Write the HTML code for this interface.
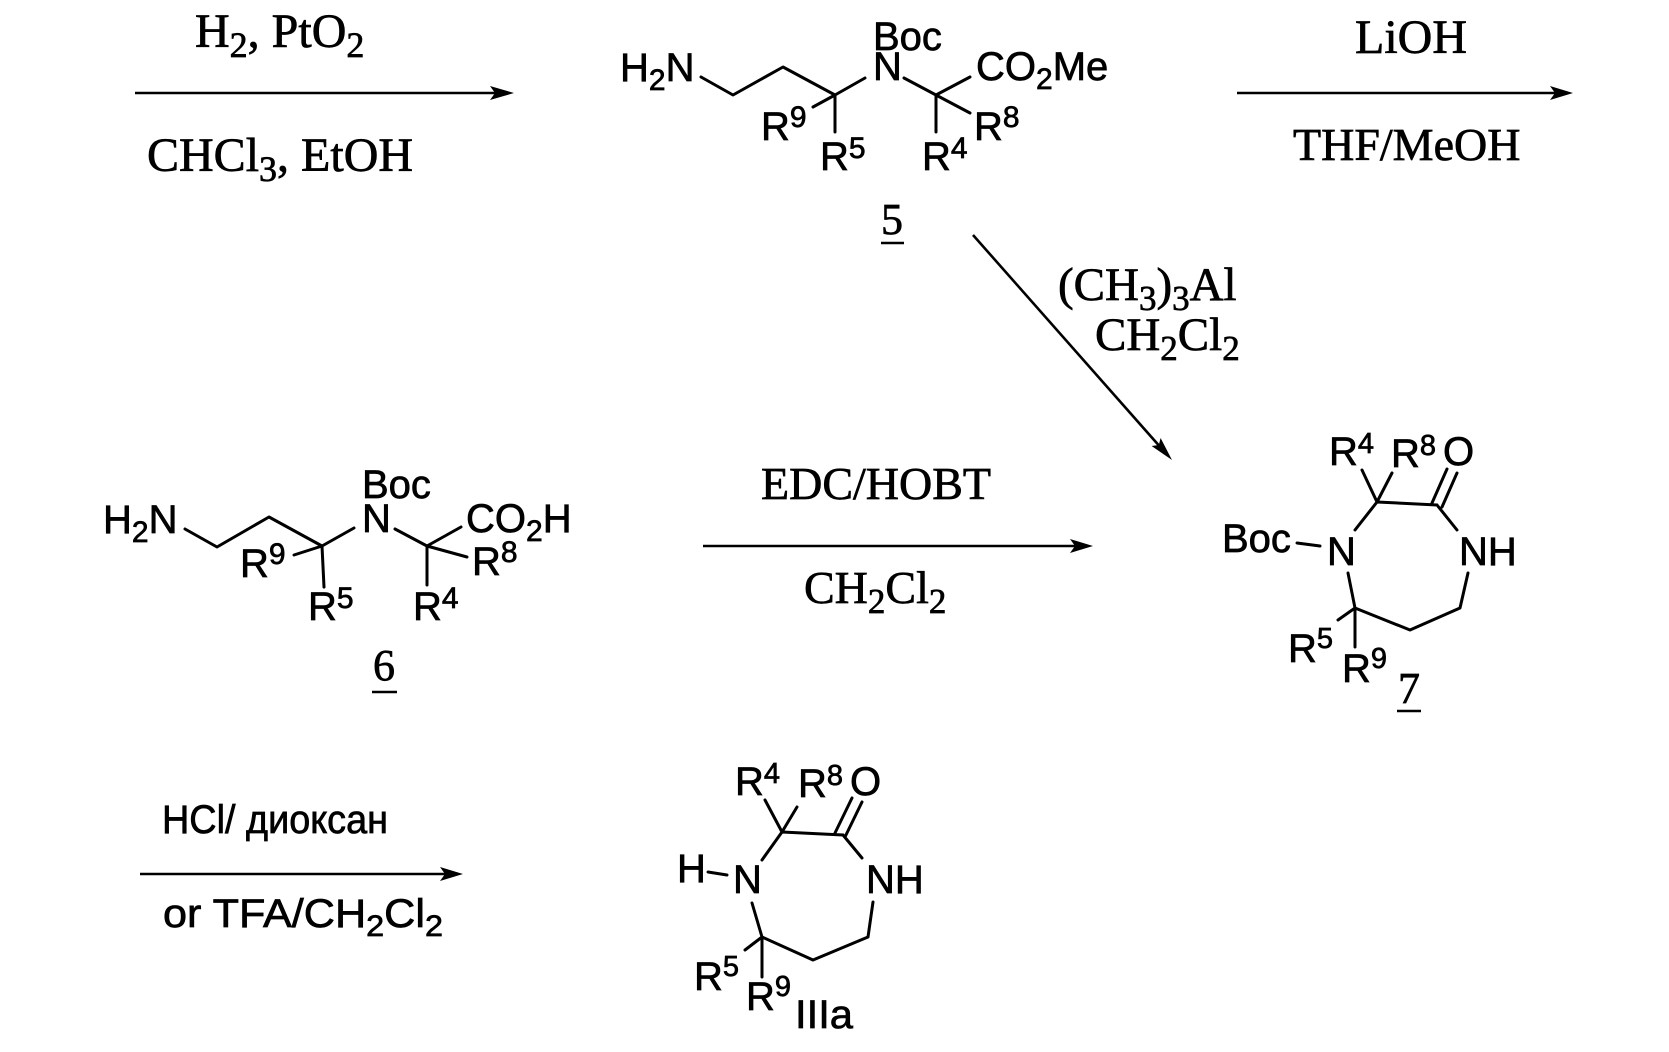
<!DOCTYPE html>
<html>
<head>
<meta charset="utf-8">
<style>
  html, body { margin:0; padding:0; background:#fff; }
  body { width:1669px; height:1052px; overflow:hidden; }
  svg { display:block; }
  .s { font-family:"Liberation Sans", Arial, sans-serif; font-size:40px; fill:#000; stroke:#000; stroke-width:0.7; }
  .t { font-family:"Liberation Serif", "Times New Roman", serif; fill:#000; stroke:#000; stroke-width:0.7; }
  .b { stroke:#000; stroke-width:3; fill:none; stroke-linecap:round; stroke-linejoin:round; }
  .a { stroke:#000; stroke-width:2.6; fill:none; }
</style>
</head>
<body>
<svg width="1669" height="1052" viewBox="0 0 1669 1052" xmlns="http://www.w3.org/2000/svg">

  <!-- ===== Top-left arrow ===== -->
  <text class="t" font-size="48" x="195" y="47">H<tspan font-size="36" dy="10">2</tspan><tspan dy="-10">, PtO</tspan><tspan font-size="36" dy="10">2</tspan></text>
  <line class="a" x1="135" y1="93" x2="500" y2="93"/>
  <polygon points="514,93 490,86 495,93 490,100" fill="#000"/>
  <text class="t" font-size="48" x="147" y="171">CHCl<tspan font-size="36" dy="10">3</tspan><tspan dy="-10">, EtOH</tspan></text>

  <!-- ===== Compound 5 ===== -->
  <text class="s" x="620" y="81">H<tspan font-size="30" dy="9">2</tspan><tspan dy="-9">N</tspan></text>
  <text class="s" x="873" y="50" font-size="41">Boc</text>
  <text class="s" x="873" y="80" font-size="41">N</text>
  <text class="s" x="976" y="80" font-size="41">CO<tspan font-size="30" dy="9">2</tspan><tspan dy="-9">Me</tspan></text>
  <text class="s" x="761" y="140" font-size="41">R<tspan font-size="30" dy="-13">9</tspan></text>
  <text class="s" x="820" y="170" font-size="41">R<tspan font-size="30" dy="-12">5</tspan></text>
  <text class="s" x="922" y="170" font-size="41">R<tspan font-size="30" dy="-12">4</tspan></text>
  <text class="s" x="974" y="140" font-size="41">R<tspan font-size="30" dy="-13">8</tspan></text>
  <path class="b" d="M701,77 L733,95 L783,67 L835,95 L865,78 M835,95 L813,107 M835,95 L835,132 M904,78 L936,95 L970,77 M936,95 L970,113 M936,95 L936,132"/>
  <text class="t" font-size="44" x="881" y="234">5</text>
  <line x1="881" y1="243" x2="904" y2="243" stroke="#000" stroke-width="2.6"/>

  <!-- ===== LiOH arrow ===== -->
  <text class="t" font-size="48" x="1355" y="53">LiOH</text>
  <line class="a" x1="1237" y1="93" x2="1558" y2="93"/>
  <polygon points="1573,93 1550,86 1555,93 1550,100" fill="#000"/>
  <text class="t" font-size="46" x="1293" y="160">THF/MeOH</text>

  <!-- ===== Diagonal arrow ===== -->
  <line class="a" x1="973" y1="235" x2="1162" y2="449"/>
  <polygon points="1172,460 1151.6,446 1158.8,445 1160.6,438" fill="#000"/>
  <text class="t" font-size="47" x="1058" y="300">(CH<tspan font-size="35" dy="10">3</tspan><tspan dy="-10">)</tspan><tspan font-size="35" dy="10">3</tspan><tspan dy="-10">Al</tspan></text>
  <text class="t" font-size="47" x="1095" y="350">CH<tspan font-size="35" dy="10">2</tspan><tspan dy="-10">Cl</tspan><tspan font-size="35" dy="10">2</tspan></text>

  <!-- ===== Compound 6 ===== -->
  <text class="s" x="103" y="533" font-size="41">H<tspan font-size="30" dy="9">2</tspan><tspan dy="-9">N</tspan></text>
  <text class="s" x="362" y="498" font-size="41">Boc</text>
  <text class="s" x="362" y="532" font-size="41">N</text>
  <text class="s" x="466" y="532" font-size="41">CO<tspan font-size="30" dy="9">2</tspan><tspan dy="-9">H</tspan></text>
  <text class="s" x="240" y="577" font-size="41">R<tspan font-size="30" dy="-13">9</tspan></text>
  <text class="s" x="308" y="620" font-size="41">R<tspan font-size="30" dy="-12">5</tspan></text>
  <text class="s" x="413" y="620" font-size="41">R<tspan font-size="30" dy="-12">4</tspan></text>
  <text class="s" x="472" y="575" font-size="41">R<tspan font-size="30" dy="-13">8</tspan></text>
  <path class="b" d="M185,529 L217,547 L269,517 L322,546 L354,528 M322,546 L294,555 M322,546 L324,587 M395,529 L427,546 L461,527 M427,546 L467,557 M427,546 L427,585"/>
  <text class="t" font-size="44" x="373" y="680">6</text>
  <line x1="372" y1="692" x2="397" y2="692" stroke="#000" stroke-width="2.6"/>

  <!-- ===== EDC arrow ===== -->
  <text class="t" font-size="46" x="761" y="499">EDC/HOBT</text>
  <line class="a" x1="703" y1="546" x2="1078" y2="546"/>
  <polygon points="1093,546 1070,539 1075,546 1070,553" fill="#000"/>
  <text class="t" font-size="46" x="804" y="603">CH<tspan font-size="35" dy="10">2</tspan><tspan dy="-10">Cl</tspan><tspan font-size="35" dy="10">2</tspan></text>

  <!-- ===== Compound 7 ===== -->
  <text class="s" x="1329" y="465">R<tspan font-size="29" dy="-12">4</tspan></text>
  <text class="s" x="1391" y="467">R<tspan font-size="29" dy="-12">8</tspan></text>
  <text class="s" x="1443" y="465" font-size="41">O</text>
  <text class="s" x="1222" y="552" font-size="41">Boc</text>
  <text class="s" x="1327" y="565" font-size="41">N</text>
  <text class="s" x="1459" y="565" font-size="41">NH</text>
  <text class="s" x="1288" y="662">R<tspan font-size="29" dy="-14">5</tspan></text>
  <text class="s" x="1342" y="682">R<tspan font-size="29" dy="-14">9</tspan></text>
  <path class="b" d="M1297,543 L1320,546 M1362,470 L1377,502 L1392,473 M1377,502 L1355,530 M1377,502 L1437,505 M1432,503 L1447,469 M1442,507 L1457,473 M1437,505 L1457,530 M1468,573 L1460,608 L1410,630 L1355,608 L1348,573 M1355,608 L1338,620 M1355,608 L1355,647"/>
  <text class="t" font-size="44" x="1398" y="703">7</text>
  <line x1="1397" y1="711" x2="1421" y2="711" stroke="#000" stroke-width="2.6"/>

  <!-- ===== Bottom arrow ===== -->
  <text class="s" font-size="37" x="162" y="833" textLength="226" lengthAdjust="spacingAndGlyphs">HCl/ диоксан</text>
  <line class="a" x1="140" y1="874" x2="448" y2="874"/>
  <polygon points="463,874 440,867 445,874 440,881" fill="#000"/>
  <text class="s" font-size="40" x="163" y="927" textLength="280" lengthAdjust="spacingAndGlyphs">or TFA/CH<tspan font-size="30" dy="9">2</tspan><tspan dy="-9">Cl</tspan><tspan font-size="30" dy="9">2</tspan></text>

  <!-- ===== Compound IIIa ===== -->
  <text class="s" x="735" y="795">R<tspan font-size="29" dy="-12">4</tspan></text>
  <text class="s" x="798" y="797">R<tspan font-size="29" dy="-12">8</tspan></text>
  <text class="s" x="850" y="795" font-size="41">O</text>
  <text class="s" x="677" y="882" font-size="41">H</text>
  <text class="s" x="733" y="893" font-size="41">N</text>
  <text class="s" x="866" y="893" font-size="41">NH</text>
  <text class="s" x="694" y="990">R<tspan font-size="29" dy="-14">5</tspan></text>
  <text class="s" x="746" y="1010">R<tspan font-size="29" dy="-14">9</tspan></text>
  <path class="b" d="M708,872 L727,875 M765,800 L782,832 L797,807 M782,832 L762,860 M782,832 L843,835 M835,833 L852,798 M845,837 L862,802 M843,835 L862,858 M873,902 L868,937 L813,960 L762,937 L752,903 M762,937 L745,950 M762,937 L762,977"/>
  <text class="s" font-size="39" x="795" y="1028" textLength="58" lengthAdjust="spacingAndGlyphs">IIIa</text>

</svg>
</body>
</html>
